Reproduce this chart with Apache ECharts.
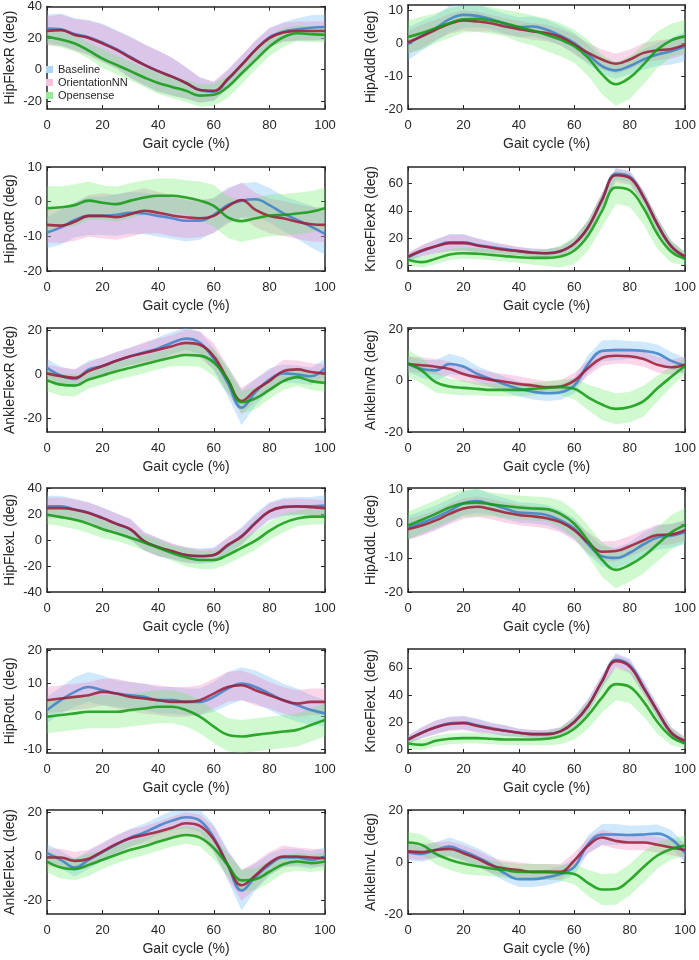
<!DOCTYPE html>
<html>
<head>
<meta charset="utf-8">
<script src="https://cdn.jsdelivr.net/npm/echarts@6/dist/echarts.min.js"></script>
<style>
  html, body { margin: 0; background: #fff; }
  #chart { width: 699px; height: 960px; }
</style>
</head>
<body>
<div id="chart"></div>
<script>
// gait cycle samples (%)
const gaitPct = [0, 5, 10, 15, 20, 25, 30, 35, 40, 45, 50, 55, 60, 65, 70, 75, 80, 85, 90, 95, 100];
const xTicks = [0, 20, 40, 60, 80, 100];
const methods = ['Baseline', 'OrientationNN', 'Opensense'];

// HipFlexR
const hipFlexR_base = [26, 25.5, 22.5, 20.5, 17, 13, 8, 3, -1, -4.5, -8.5, -13, -14, -6.5, 3, 12.5, 20.5, 24, 25.5, 26.5, 27];
const hipFlexR_nn   = [24.5, 25, 22, 20, 16.5, 12.5, 7.5, 3, -1, -4.5, -8.5, -13, -13.5, -6, 3, 12.5, 20, 23.5, 24.5, 24.5, 24.5];
const hipFlexR_os   = [21, 19, 16.5, 12, 7, 3, -1, -5, -8.5, -11, -13.5, -16.5, -16, -11, -2.5, 6, 14.5, 20.5, 23, 22.5, 22];
const hipFlexR_base_sd = [9, 10, 10, 11, 12, 12, 13, 13, 13, 12, 10, 8, 6, 6, 6, 6, 6, 6, 7, 8, 8];
const hipFlexR_nn_sd   = [9, 10, 10, 11, 12, 12, 13, 13, 13, 12, 10, 8, 6, 6, 6, 6, 6, 6, 6, 6, 6];
const hipFlexR_os_sd   = [5, 5, 5, 5, 6, 6, 6, 6, 7, 7, 7, 7, 7, 7, 7, 6, 6, 6, 5, 5, 5];
const hipFlexR_ticks = [-20, 0, 20, 40];

// HipAddR
const hipAddR_base = [-0.3, 2.2, 4.5, 7.2, 8.5, 8.2, 7.2, 5.8, 4.8, 5, 4, 2.2, 0, -3.5, -7, -8.3, -7, -5, -3.5, -2.5, -1];
const hipAddR_nn   = [0.2, 2, 4, 5.8, 6.8, 6.5, 6, 5, 4.2, 3.5, 3, 1.8, -0.5, -3, -5, -6.3, -5, -3, -2.2, -1.8, -0.5];
const hipAddR_os   = [1.8, 3, 4.5, 6, 7.2, 7.3, 6.8, 6, 4.8, 3.8, 2.5, 1, -1, -4.5, -9.5, -12.5, -10.5, -6.5, -2, 0.8, 2];
const hipAddR_base_sd = [5, 4.5, 4, 4, 4, 3.5, 3, 3, 3, 3, 3, 3, 3, 3, 2.5, 2.5, 2.5, 3, 3.5, 4, 4.5];
const hipAddR_nn_sd   = [3.5, 3.5, 3, 3, 3, 3, 2.5, 2.5, 2.5, 2.5, 2.5, 2.5, 3, 3, 3, 3, 3, 3, 3, 3, 3];
const hipAddR_os_sd   = [5, 5, 4.5, 4.5, 4, 4, 4, 4, 4.5, 4.5, 5, 5, 5, 5.5, 6, 6.5, 6.5, 6, 5.5, 5, 5];
const hipAddR_ticks = [-20, -10, 0, 10];

// HipRotR
const hipRotR_base = [-8.9, -7.4, -5.3, -4.1, -4.1, -3.8, -3.2, -3.4, -4.1, -4.8, -5.5, -5.5, -3.8, -1, 0.3, 0.7, -1, -3.4, -5.3, -7.2, -9.3];
const hipRotR_nn   = [-6.7, -6.9, -5.8, -4.1, -4.1, -4.5, -3.6, -2.6, -3.2, -4, -4.5, -4.8, -4.1, -1.4, 0.5, -2.4, -4.1, -4.8, -5.8, -6.5, -6.7];
const hipRotR_os   = [-1.9, -1.6, -1, 0.3, -0.3, -0.7, 0.3, 1.2, 1.7, 1.7, 1.2, 0.3, -1.2, -4.5, -5.6, -4.8, -4, -3.8, -3.4, -2.9, -1.9];
const hipRotR_base_sd = [4.5, 5, 5, 5.5, 5.5, 6, 6, 6, 6, 6, 6, 5.5, 5, 5, 5, 5, 5, 5, 5.5, 6, 6];
const hipRotR_nn_sd   = [5, 5, 5.5, 6, 6.5, 6.5, 6.5, 6.5, 6, 6, 6, 5.5, 5, 5, 5, 5, 5, 5, 5, 5, 5];
const hipRotR_os_sd   = [6.5, 6, 6, 5.5, 5, 5, 5, 5, 5, 5, 5, 5.5, 6, 6, 6, 6, 6, 6, 6, 6, 6];
const hipRotR_ticks = [-20, -10, 0, 10];

// KneeFlexR
const kneeFlexR_base = [6, 10.5, 14, 17, 17, 15, 13.5, 12, 10.5, 9.5, 9, 10.5, 16, 28, 48, 67, 65, 50, 30, 14, 6];
const kneeFlexR_nn   = [6.6, 11, 14, 16.4, 16.4, 14.7, 13, 11.5, 10.5, 9.3, 9, 10.5, 16, 28, 48, 66, 64, 50, 30, 14, 6.6];
const kneeFlexR_os   = [4.2, 2.5, 5, 8, 9, 8.6, 7.8, 6.9, 6.1, 5.6, 5.6, 6.6, 11, 22, 40, 57, 55, 42, 23, 10, 5];
const kneeFlexR_base_sd = [3, 4, 5, 6, 6, 5, 4, 3, 3, 3, 3, 3, 4, 5, 5, 4, 4, 5, 5, 4, 3];
const kneeFlexR_nn_sd   = [3, 4, 5, 6, 6, 5, 4, 4, 3, 3, 3, 3, 4, 5, 5, 5, 5, 5, 5, 4, 3];
const kneeFlexR_os_sd   = [4, 4, 4, 4, 4, 4, 4, 4, 4, 5, 6, 8, 10, 11, 12, 12, 12, 12, 11, 8, 5];
const kneeFlexR_ticks = [0, 20, 40, 60];

// AnkleFlexR
const ankleFlexR_base = [3, -0.5, -2, 2.3, 3.8, 6.2, 8.2, 10, 11.8, 14.3, 16.2, 14.3, 6.9, -3.8, -15, -8, -2.3, 0.5, 0, -0.8, 3];
const ankleFlexR_nn   = [0.5, -0.8, -1.5, 1.5, 3.8, 6.2, 8.2, 9.7, 11.2, 12.8, 14.3, 13.4, 8.2, -2.3, -12, -7, -3, 1.5, 2.3, 1.1, 0.5];
const ankleFlexR_os   = [-2.6, -4.6, -5, -2.3, -0.5, 1.5, 3, 4.6, 6.2, 7.7, 8.8, 8.5, 5.4, -2.3, -12.5, -10.8, -7, -3, -1.2, -3, -3.8];
const ankleFlexR_base_sd = [4, 4, 4, 4, 4, 4, 4, 4, 5, 5, 5, 5, 5, 6, 8, 6, 5, 4, 4, 4, 4];
const ankleFlexR_nn_sd   = [4, 4, 4, 4, 4, 4, 4, 5, 5, 5, 6, 6, 6, 6, 6, 5, 5, 5, 4, 4, 4];
const ankleFlexR_os_sd   = [5, 5, 5, 4, 4, 4, 4, 4, 4, 4, 5, 5, 6, 6, 5, 5, 4, 4, 4, 4, 4];
const ankleFlexR_ticks = [-20, 0, 20];

// AnkleInvR
const ankleInvR_base = [6.5, 4.5, 4, 6.5, 5.5, 2.6, 0.6, -1.5, -3.2, -4.3, -4.9, -4.5, -1.9, 6.5, 11.6, 11.9, 11.9, 11.6, 10.6, 7.7, 5.8];
const ankleInvR_nn   = [6.5, 6, 5.4, 4.5, 2.6, 1.3, 0.3, -0.4, -1.3, -1.9, -2.6, -2.3, 0, 4.9, 8.8, 9.7, 9.5, 8.4, 6.2, 5.2, 6.2];
const ankleInvR_os   = [6.8, 3.9, -0.6, -2.3, -2.8, -3.2, -3.6, -3.6, -3.6, -3.2, -2.8, -2.6, -3.2, -6.5, -9.3, -11, -10.3, -8, -3, 1.5, 5.8];
const ankleInvR_base_sd = [3, 3.5, 4, 4, 3.5, 3, 3, 3, 3, 3, 3, 3, 3, 3.5, 4, 4, 3.5, 3.5, 3.5, 3.5, 3];
const ankleInvR_nn_sd   = [3, 3, 3, 3, 3, 3, 3, 3, 3, 2.5, 2.5, 2.5, 3, 3, 3, 3, 3, 3, 3, 3, 3];
const ankleInvR_os_sd   = [5, 5, 4, 3, 3, 2.5, 2.5, 2.5, 2.5, 2.5, 2.5, 3, 4, 5, 6, 6, 6, 6, 5, 4, 3];
const ankleInvR_ticks = [-20, 0, 20];

// HipFlexL
const hipFlexL_base = [26, 26, 23.5, 21, 17, 12.5, 8, -1, -5.5, -9, -11.5, -12.5, -11.5, -4.5, 3, 13.5, 22, 25.5, 26, 26, 26.5];
const hipFlexL_nn   = [24.5, 24.5, 23.3, 20.7, 16.8, 12.4, 8.3, -1, -5.5, -8.5, -11.5, -12.3, -11.5, -3.8, 2.6, 13, 22, 25.3, 25.8, 25.3, 24.5];
const hipFlexL_os   = [19.4, 17.6, 15.5, 12.4, 8.3, 5.2, 1.8, -2, -6, -10, -13.3, -15.4, -15.4, -11.5, -6, -0.5, 7, 13, 16.5, 18, 18];
const hipFlexL_base_sd = [8, 8, 8, 8, 8, 8, 8, 7, 7, 6, 6, 6, 6, 6, 7, 7, 7, 7, 7, 7, 8];
const hipFlexL_nn_sd   = [8, 8, 8, 8, 8, 8, 8, 7, 7, 6, 6, 5, 5, 6, 6, 6, 6, 6, 6, 6, 6];
const hipFlexL_os_sd   = [7, 7, 7, 7, 7, 6, 6, 6, 6, 6, 7, 7, 7, 7, 7, 7, 7, 7, 6, 6, 6];
const hipFlexL_ticks = [-40, -20, 0, 20, 40];

// HipAddL
const hipAddL_base = [-1.2, 0.3, 1.9, 3.8, 6, 6.7, 5.7, 4.5, 3.3, 3.1, 2.6, 1, -1.4, -6, -9.5, -10, -8.5, -6, -4, -3.5, -2.5];
const hipAddL_nn   = [-1.6, -0.5, 1, 2.9, 4.5, 5, 4.3, 3.3, 2.6, 2.2, 1.6, 0.5, -1.9, -5.5, -8.2, -8, -6.6, -4.8, -3.3, -3.1, -1.9];
const hipAddL_os   = [-0.5, 1.2, 2.9, 4.8, 6, 6.2, 5.7, 5.2, 4.8, 4.5, 4.3, 2.9, 0, -5, -10.5, -13.5, -12, -9.5, -6, -2.5, -0.3];
const hipAddL_base_sd = [3.5, 3.5, 3.5, 3.5, 3.5, 3.5, 3, 3, 3, 3, 3, 3, 3, 3, 3, 3, 3, 3.5, 3.5, 3.5, 3.5];
const hipAddL_nn_sd   = [3, 3, 3, 3, 3, 3, 3, 3, 3, 3, 3, 3, 3, 3, 3, 3, 3, 3, 3, 3, 3];
const hipAddL_os_sd   = [4, 4, 4, 4, 4, 4, 3.5, 3.5, 3.5, 3.5, 3.5, 4, 4, 4.5, 5, 5.5, 5, 5, 5, 5, 5];
const hipAddL_ticks = [-20, -10, 0, 10];

// HipRotL
const hipRotL_base = [2, 5, 7.5, 9, 8, 7, 6.5, 6, 5, 5, 4.5, 4.5, 6, 8.5, 10, 9, 7, 5, 3.5, 2, 1];
const hipRotL_nn   = [5, 5.5, 6, 6.5, 7.5, 7, 6, 5.5, 5, 4.5, 4.5, 5, 7, 9, 9.5, 8, 6.5, 5, 4, 4.5, 4.5];
const hipRotL_os   = [0, 0.5, 1, 1.5, 1.5, 1.5, 2, 2.5, 3, 3, 2, 0, -3, -5.5, -6, -5.5, -5, -4.5, -4, -2.5, -1];
const hipRotL_base_sd = [4, 4, 4.5, 4.5, 4.5, 4, 4, 4, 4, 4, 4, 4, 4.5, 5, 5, 5, 5, 5, 5, 4.5, 4];
const hipRotL_nn_sd   = [4, 4, 4, 4, 4, 4.5, 4.5, 4.5, 4.5, 4.5, 4.5, 4.5, 4.5, 4.5, 4.5, 4.5, 4, 4, 4, 4, 4];
const hipRotL_os_sd   = [5, 5, 5, 5, 5, 5, 5, 5, 5, 5, 5, 5, 5, 5, 5, 5, 5, 5, 5, 5, 5];
const hipRotL_ticks = [-10, 0, 10, 20];

// KneeFlexL
const kneeFlexL_base = [7, 12, 16, 19, 19.5, 17.5, 15.5, 13.5, 12, 11, 11, 13, 20, 32, 50, 66, 62, 46, 28, 12, 5];
const kneeFlexL_nn   = [7, 12, 16, 18.5, 19, 17, 15, 13.5, 12, 11, 11, 13, 20, 32, 50, 65, 61, 45, 28, 12, 6];
const kneeFlexL_os   = [4, 3, 6, 7.5, 8, 8, 7.5, 7, 7, 7, 7.5, 9.5, 15, 25, 38, 48, 46, 35, 20, 9, 4];
const kneeFlexL_base_sd = [3, 4, 5, 5, 5, 5, 4, 4, 3, 3, 3, 3, 4, 5, 5, 5, 5, 5, 5, 4, 3];
const kneeFlexL_nn_sd   = [3, 4, 5, 5, 5, 5, 4, 4, 3, 3, 3, 3, 4, 5, 5, 5, 5, 5, 5, 4, 3];
const kneeFlexL_os_sd   = [4, 4, 4, 4, 4, 4, 4, 4, 4, 4, 5, 6, 8, 10, 11, 12, 12, 11, 9, 6, 4];
const kneeFlexL_ticks = [0, 20, 40, 60];

// AnkleFlexL
const ankleFlexL_base = [1.5, -1.5, -5, -1.5, 2, 5.4, 8.5, 10.8, 13.8, 16.2, 17.7, 16.2, 8.5, -3.8, -15.4, -9.2, -3.8, -0.5, -0.5, -1.5, 0];
const ankleFlexL_nn   = [-0.5, -0.5, -2, -1, 2.3, 5.7, 8.2, 9.7, 11.2, 13, 15, 13.8, 7.7, -3.8, -13, -8.5, -3, 0, 0, -0.5, -0.8];
const ankleFlexL_os   = [-2.3, -5, -5.7, -3.8, -1.5, 0.8, 3, 4.6, 6.6, 8.5, 9.7, 8.5, 3.8, -3.8, -10.8, -10.3, -6.9, -3.5, -2.3, -3, -2.3];
const ankleFlexL_base_sd = [4, 4, 4, 4, 4, 4, 4, 4, 4, 4.5, 5, 5, 6, 7, 9, 6, 5, 4, 4, 4, 4];
const ankleFlexL_nn_sd   = [4, 4, 4, 4, 4, 4, 4, 4, 4.5, 5, 5, 5, 6, 6, 7, 6, 5, 5, 4, 4, 4];
const ankleFlexL_os_sd   = [5, 5, 5, 5, 4, 4, 4, 4, 4, 4, 4, 4, 5, 5, 5, 5, 5, 4, 4, 4, 4];
const ankleFlexL_ticks = [-20, 0, 20];

// AnkleInvL
const ankleInvL_base = [3.8, 3.1, 4.6, 5.9, 4.1, 1.9, -0.9, -4.4, -6.6, -6.6, -5.9, -4.6, -1.9, 6.9, 10.6, 10.6, 10.4, 10.6, 10.9, 8.8, 3.4];
const ankleInvL_nn   = [4.1, 3.8, 4.6, 5, 3.4, 1.3, -1.3, -2.5, -3.1, -3.8, -3.8, -3.8, 0.6, 6.3, 9.4, 8.1, 7.5, 7.5, 6.6, 5.6, 4.6];
const ankleInvL_os   = [7.5, 6.6, 3.1, 0.9, -0.6, -1.6, -2.5, -3.1, -3.8, -3.8, -3.8, -4.1, -4.6, -8.1, -10.6, -10.4, -6.9, -1.9, 2.5, 5, 6.3];
const ankleInvL_base_sd = [3, 3, 3, 3.5, 3.5, 3.5, 3.5, 3, 3, 3, 3, 3, 3, 3.5, 4, 4, 3.5, 3.5, 3.5, 3.5, 3.5];
const ankleInvL_nn_sd   = [3, 3, 3, 3, 3, 3, 3, 3, 3, 3, 3, 3, 3, 3, 3, 3, 3, 3, 3, 3, 3];
const ankleInvL_os_sd   = [4, 4, 4, 4, 4, 3.5, 3, 3, 3, 3, 3, 3, 4, 5, 6, 6, 6, 6, 5, 4, 4];
const ankleInvL_ticks = [-20, 0, 20];

// panel order: left/right columns, top to bottom
let panels = [
    { name: 'HipFlexR',   lines: [hipFlexR_base, hipFlexR_nn, hipFlexR_os],       sd: [hipFlexR_base_sd, hipFlexR_nn_sd, hipFlexR_os_sd],       yMin: -25, yMax: 40,   ticks: hipFlexR_ticks },
    { name: 'HipAddR',    lines: [hipAddR_base, hipAddR_nn, hipAddR_os],          sd: [hipAddR_base_sd, hipAddR_nn_sd, hipAddR_os_sd],          yMin: -20, yMax: 11.5, ticks: hipAddR_ticks },
    { name: 'HipRotR',    lines: [hipRotR_base, hipRotR_nn, hipRotR_os],          sd: [hipRotR_base_sd, hipRotR_nn_sd, hipRotR_os_sd],          yMin: -20, yMax: 10,   ticks: hipRotR_ticks },
    { name: 'KneeFlexR',  lines: [kneeFlexR_base, kneeFlexR_nn, kneeFlexR_os],    sd: [kneeFlexR_base_sd, kneeFlexR_nn_sd, kneeFlexR_os_sd],    yMin: -4,  yMax: 72,   ticks: kneeFlexR_ticks },
    { name: 'AnkleFlexR', lines: [ankleFlexR_base, ankleFlexR_nn, ankleFlexR_os], sd: [ankleFlexR_base_sd, ankleFlexR_nn_sd, ankleFlexR_os_sd], yMin: -26, yMax: 21,   ticks: ankleFlexR_ticks },
    { name: 'AnkleInvR',  lines: [ankleInvR_base, ankleInvR_nn, ankleInvR_os],    sd: [ankleInvR_base_sd, ankleInvR_nn_sd, ankleInvR_os_sd],    yMin: -20, yMax: 20.5, ticks: ankleInvR_ticks },
    { name: 'HipFlexL',   lines: [hipFlexL_base, hipFlexL_nn, hipFlexL_os],       sd: [hipFlexL_base_sd, hipFlexL_nn_sd, hipFlexL_os_sd],       yMin: -40, yMax: 40,   ticks: hipFlexL_ticks },
    { name: 'HipAddL',    lines: [hipAddL_base, hipAddL_nn, hipAddL_os],          sd: [hipAddL_base_sd, hipAddL_nn_sd, hipAddL_os_sd],          yMin: -20, yMax: 10.5, ticks: hipAddL_ticks },
    { name: 'HipRotL',    lines: [hipRotL_base, hipRotL_nn, hipRotL_os],          sd: [hipRotL_base_sd, hipRotL_nn_sd, hipRotL_os_sd],          yMin: -11, yMax: 20.5, ticks: hipRotL_ticks },
    { name: 'KneeFlexL',  lines: [kneeFlexL_base, kneeFlexL_nn, kneeFlexL_os],    sd: [kneeFlexL_base_sd, kneeFlexL_nn_sd, kneeFlexL_os_sd],    yMin: -3,  yMax: 74,   ticks: kneeFlexL_ticks },
    { name: 'AnkleFlexL', lines: [ankleFlexL_base, ankleFlexL_nn, ankleFlexL_os], sd: [ankleFlexL_base_sd, ankleFlexL_nn_sd, ankleFlexL_os_sd], yMin: -26, yMax: 21,   ticks: ankleFlexL_ticks },
    { name: 'AnkleInvL',  lines: [ankleInvL_base, ankleInvL_nn, ankleInvL_os],    sd: [ankleInvL_base_sd, ankleInvL_nn_sd, ankleInvL_os_sd],    yMin: -20, yMax: 20,   ticks: ankleInvL_ticks }
];

const font = 'Liberation Sans, Arial, sans-serif';
const ink = '#262626';
const lineColors = ['#3d80c8', '#a01a35', '#119a11'];
const bandColors = ['#64b4f5', '#f078be', '#64eb64'];
const legendColors = ['#acd5f7', '#f7c0de', '#96ea96'];
const rowTops = [5, 167, 328, 488, 649, 810];

// shaded +-sd band drawn as one polygon through the grid's own coord system
let bandRender = (lo, hi, color) => (params, api) => {
    if (params.dataIndex !== 0) return null;
    let pts = [];
    for (let i = 0; i < gaitPct.length; i++) pts.push(api.coord([gaitPct[i], hi[i]]));
    for (let i = gaitPct.length - 1; i >= 0; i--) pts.push(api.coord([gaitPct[i], lo[i]]));
    let cs = params.coordSys;
    return {
        type: 'polygon',
        shape: { points: pts },
        style: { fill: color, opacity: 0.3 },
        clipPath: { type: 'rect', shape: { x: cs.x, y: cs.y, width: cs.width, height: cs.height } }
    };
};

let grids = [], xAxes = [], yAxes = [], series = [];
let axisLine = { show: true, onZero: false, lineStyle: { color: ink, width: 1.5 } };
let tick = { inside: true, length: 4, lineStyle: { color: ink, width: 1 } };
let labelStyle = { color: ink, fontSize: 13, fontFamily: font };

panels.forEach((p, i) => {
    let col = i % 2, row = Math.floor(i / 2);
    grids.push({ left: col ? 408 : 47, top: rowTops[row], width: 278, height: 104 });

    xAxes.push({
        gridIndex: i, type: 'value', min: 0, max: 100, interval: 20, position: 'bottom',
        name: 'Gait cycle (%)', nameLocation: 'middle', nameGap: 28,
        nameTextStyle: { color: ink, fontSize: 14, fontFamily: font },
        axisLine: axisLine, axisTick: tick, splitLine: { show: false },
        axisLabel: Object.assign({ margin: 10 }, labelStyle)
    });
    xAxes.push({
        gridIndex: i, type: 'value', min: 0, max: 100, interval: 20, position: 'top',
        axisLine: axisLine, axisTick: tick, splitLine: { show: false }, axisLabel: { show: false }
    });
    yAxes.push({
        gridIndex: i, type: 'value', min: p.yMin, max: p.yMax, position: 'left',
        name: p.name + ' (deg)', nameLocation: 'middle', nameGap: 30,
        nameTextStyle: { color: ink, fontSize: 14, fontFamily: font },
        axisLine: axisLine, splitLine: { show: false },
        axisTick: Object.assign({ customValues: p.ticks }, tick),
        axisLabel: Object.assign({ customValues: p.ticks, margin: 5 }, labelStyle)
    });
    yAxes.push({
        gridIndex: i, type: 'value', min: p.yMin, max: p.yMax, position: 'right',
        axisLine: axisLine, splitLine: { show: false },
        axisTick: Object.assign({ customValues: p.ticks }, tick),
        axisLabel: { show: false }
    });

    // bands first
    p.lines.forEach((m, k) => {
        let lo = m.map((v, j) => v - p.sd[k][j]);
        let hi = m.map((v, j) => v + p.sd[k][j]);
        series.push({
            type: 'custom', xAxisIndex: 2 * i, yAxisIndex: 2 * i, silent: true,
            renderItem: bandRender(lo, hi, bandColors[k]),
            encode: { x: 0, y: [1, 2] },
            data: gaitPct.map((x, j) => [x, lo[j], hi[j]])
        });
    });
    // mean lines on top
    p.lines.forEach((m, k) => {
        series.push({
            name: methods[k], type: 'line', xAxisIndex: 2 * i, yAxisIndex: 2 * i,
            showSymbol: false, smooth: 0.4, silent: true,
            lineStyle: { color: lineColors[k], width: 2.6, opacity: 0.85 },
            itemStyle: { color: lineColors[k] },
            data: gaitPct.map((x, j) => [x, m[j]])
        });
    });
});

let option = {
    backgroundColor: '#fff',
    animation: false,
    grid: grids,
    xAxis: xAxes,
    yAxis: yAxes,
    legend: {
        left: 46, top: 64, orient: 'vertical', padding: 0,
        itemWidth: 7, itemHeight: 7, itemGap: 2, selectedMode: false,
        textStyle: { color: ink, fontSize: 11, fontFamily: font },
        data: methods.map((n, k) => ({ name: n, icon: 'rect', itemStyle: { color: legendColors[k] } }))
    },
    series: series
};

let myChart = echarts.init(document.getElementById('chart'));
myChart.setOption(option);
</script>
</body>
</html>
